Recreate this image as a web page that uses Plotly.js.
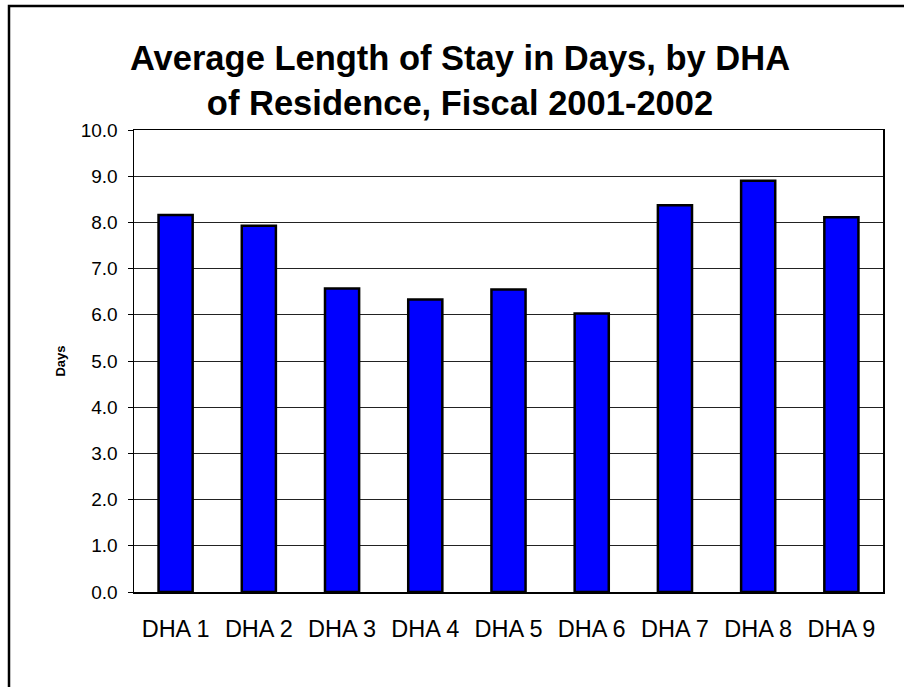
<!DOCTYPE html>
<html>
<head>
<meta charset="utf-8">
<script src="https://cdn.plot.ly/plotly-3.0.1.min.js"></script>
<style>
html,body{margin:0;padding:0;background:#fff;}
#chart{width:904px;height:687px;}
</style>
</head>
<body>
<div id="chart"></div>
<script>
const categories = ["DHA 1","DHA 2","DHA 3","DHA 4","DHA 5","DHA 6","DHA 7","DHA 8","DHA 9"];
const avgStayDays = [8.16, 7.93, 6.57, 6.33, 6.55, 6.03, 8.37, 8.90, 8.11];
const yTickValues = [0,1,2,3,4,5,6,7,8,9,10];
const yTickLabels = ["0.0","1.0","2.0","3.0","4.0","5.0","6.0","7.0","8.0","9.0","10.0"];

const FONT = "Arial, 'Liberation Sans', sans-serif";
const L = 134, R = 21, T = 130, B = 95, W = 904, H = 687;
const pw = W - L - R, ph = H - T - B;
const px = v => (v - L) / pw;
const py = v => (H - B - v) / ph;

const trace = {
  type: "bar",
  x: categories,
  y: avgStayDays,
  marker: {color: "#0000FF", line: {color: "#000000", width: 2.5}},
  hoverinfo: "x+y"
};

const layout = {
  width: W, height: H,
  margin: {l: L, r: R, t: T, b: B, pad: 0},
  paper_bgcolor: "#ffffff",
  plot_bgcolor: "#ffffff",
  bargap: 0.59,
  showlegend: false,
  font: {family: FONT, color: "#000"},
  title: {
    text: "<b>Average Length of Stay in Days, by DHA<br>of Residence, Fiscal 2001-2002</b>",
    font: {family: FONT, size: 34.5, color: "#000"},
    xref: "container", x: 460 / W, xanchor: "center",
    yref: "container", y: 1 - 70 / H, yanchor: "top"
  },
  xaxis: {
    type: "category",
    showgrid: false,
    showline: true, linecolor: "#000", linewidth: 1.5, mirror: true,
    ticks: "",
    tickfont: {family: FONT, size: 23.5, color: "#000"},
    ticklabelstandoff: 15,
    zeroline: false
  },
  yaxis: {
    range: [0, 10],
    tickmode: "array",
    tickvals: yTickValues,
    ticktext: yTickLabels,
    showgrid: true, gridcolor: "#222", gridwidth: 1,
    showline: true, linecolor: "#000", linewidth: 1.5, mirror: true,
    ticks: "outside", ticklen: 5, tickcolor: "#000",
    tickfont: {family: FONT, size: 19, color: "#000"},
    ticklabelstandoff: 6,
    zeroline: false,
    title: {text: "<b>Days</b>", font: {family: FONT, size: 13, color: "#000"}, standoff: 12}
  },
  shapes: [{
    type: "rect", xref: "paper", yref: "paper",
    x0: px(9), x1: px(960), y0: py(740), y1: py(6),
    line: {color: "#000", width: 2.5}, fillcolor: "rgba(0,0,0,0)", layer: "above"
  }]
};

Plotly.newPlot("chart", [trace], layout, {displayModeBar: false, staticPlot: true});
</script>
</body>
</html>
